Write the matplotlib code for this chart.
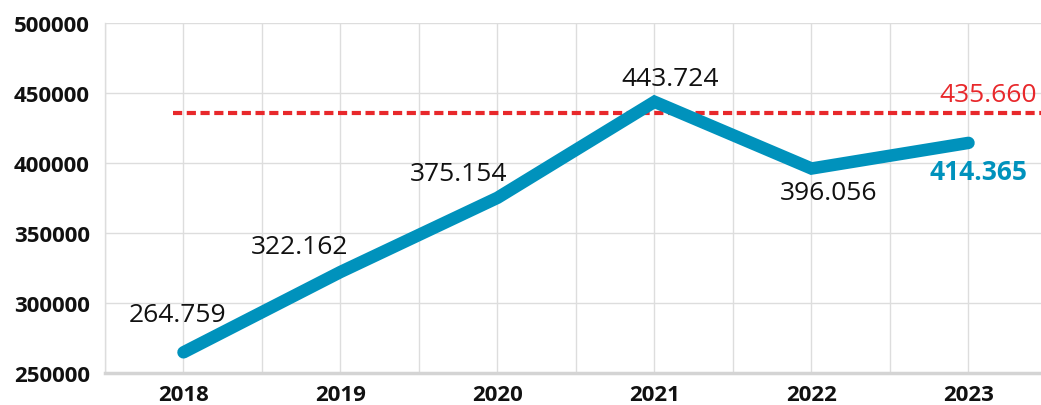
import matplotlib
matplotlib.use("Agg")
import matplotlib.pyplot as plt

years = [2018, 2019, 2020, 2021, 2022, 2023]
values = [264759, 322162, 375154, 443724, 396056, 414365]
labels = ["264.759", "322.162", "375.154", "443.724", "396.056", "414.365"]
ref_value = 435660
ref_label = "435.660"
yticks = [250000, 300000, 350000, 400000, 450000, 500000]

plt.rcParams['font.family'] = ['Open Sans', 'DejaVu Sans']

fig = plt.figure(figsize=(10.41, 4.06), dpi=100)
ax = fig.add_axes([105/1041, 32/406, 936/1041, 350/406])

blue = "#0092BC"
red = "#E8282B"

ax.set_xlim(2017.5, 2017.5 + 936/157)
ax.set_ylim(250000, 500000)

# grid
ax.set_yticks(yticks)
ax.set_xticks(years)
ax.set_xticks([y + 0.5 for y in years[:-1]] + [2017.5], minor=True)
ax.grid(True, which='both', color="#DDDDDD", linewidth=1.0)
ax.tick_params(which='both', length=0)
ax.set_axisbelow(True)

for s in ['top', 'right']:
    ax.spines[s].set_visible(False)
ax.spines['left'].set_color("#DDDDDD")
ax.spines['left'].set_linewidth(1.0)
ax.spines['bottom'].set_color("#D4D4D4")
ax.spines['bottom'].set_linewidth(2.5)

ax.set_yticklabels([str(v) for v in yticks], fontsize=16, fontweight='bold', color='#111111')
ax.set_xticklabels([str(y) for y in years], fontsize=16, fontweight='bold', color='#111111')
ax.tick_params(axis='y', pad=11)
ax.tick_params(axis='x', pad=8)

# reference dotted line
ax.axhline(ref_value, xmin=(2017.93 - 2017.5) / (936/157), xmax=1.0,
           color=red, linewidth=3, linestyle=(0, (2.2, 1.1)))

# main line
ax.plot(years, values, color=blue, linewidth=9, solid_capstyle='round',
        solid_joinstyle='miter', zorder=3)

offsets = [(-6, 38), (-41, 25), (-39, 24), (16, 23), (17, -24), (10, -29)]
for i, (x, v, lab) in enumerate(zip(years, values, labels)):
    dx, dy = offsets[i]
    last = (i == len(years) - 1)
    ax.annotate(lab, (x, v), xytext=(dx, dy), textcoords='offset pixels',
                ha='center', va='center', fontsize=19,
                color=blue if last else '#111111',
                fontweight='bold' if last else 'normal', zorder=4)

ax.annotate(ref_label, (2023, ref_value), xytext=(20, 19), textcoords='offset pixels',
            ha='center', va='center', fontsize=19, color=red)

fig.savefig("out.png", dpi=100)
